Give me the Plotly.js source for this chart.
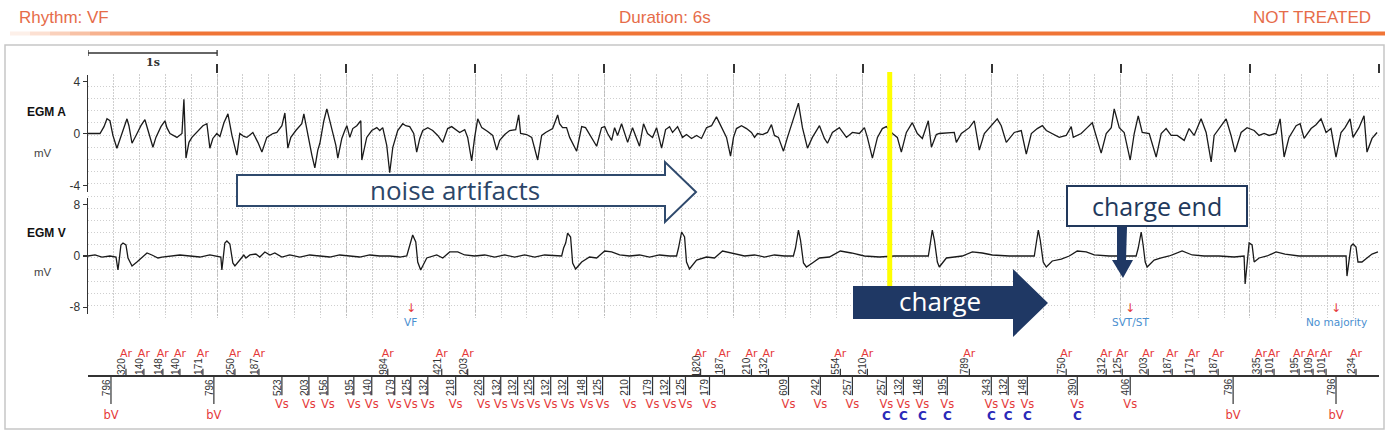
<!DOCTYPE html>
<html>
<head>
<meta charset="utf-8">
<script src="https://cdn.plot.ly/plotly-3.0.1.min.js"></script>
<style>
  html, body { margin: 0; padding: 0; background: #fff; }
  #chart { width: 1393px; height: 436px; }
</style>
</head>
<body>
<div id="chart"></div>
<script>
// ---- header texts ----
var headerLeft = 'Rhythm: VF';
var headerMid = 'Duration: 6s';
var headerRight = 'NOT TREATED';

// ---- EGM A (atrial channel), time in s, amplitude in mV ----
var egmA_t = [
  0.000,0.093,0.124,0.147,0.170,0.193,0.224,0.248,0.279,0.302,0.317,0.341,0.372,0.410,0.441,0.472,0.503,0.526,0.565,0.596,
  0.611,0.635,0.689,0.728,0.743,0.759,0.782,0.805,0.844,0.890,0.921,0.944,0.967,0.998,
  1.022,1.053,1.084,1.115,1.153,1.176,1.207,1.231,1.277,1.316,1.347,1.370,1.385,1.432,1.463,1.502,1.525,1.548,1.571,1.610,
  1.656,1.672,1.703,1.734,1.757,1.780,1.796,1.827,1.850,1.873,1.896,1.920,1.935,1.966,1.989,
  2.005,2.028,2.051,2.082,2.113,2.121,2.144,2.159,2.198,2.237,2.260,2.283,2.314,2.337,2.361,2.399,2.438,2.461,2.492,2.523,
  2.546,2.570,2.593,2.632,2.670,2.709,2.748,2.786,2.817,2.856,2.879,2.918,2.941,2.972,2.995,
  3.019,3.050,3.096,3.135,3.166,3.189,3.228,3.266,3.313,3.336,3.351,3.398,3.437,3.483,3.514,3.545,3.599,3.638,3.653,3.676,
  3.707,3.731,3.785,3.824,3.854,3.885,3.909,3.940,3.978,
  4.002,4.025,4.056,4.079,4.102,4.133,4.156,4.180,4.218,4.249,4.272,4.303,4.334,4.373,4.404,4.443,4.474,4.505,4.528,4.567,
  4.605,4.636,4.675,4.714,4.752,4.791,4.830,4.868,4.907,4.946,4.977,
  5.000,5.023,5.062,5.101,5.139,5.163,5.186,5.224,5.263,5.294,5.317,5.348,5.387,5.418,5.457,5.503,5.534,5.573,5.611,5.666,
  5.704,5.728,5.766,5.820,5.875,5.921,5.975,
  6.014,6.037,6.076,6.115,6.153,6.184,6.231,6.269,6.300,6.339,6.385,6.424,6.463,6.509,6.533,6.571,6.594,6.710,6.726,6.765,
  6.827,6.865,6.904,6.943,6.997,
  7.043,7.074,7.113,7.175,7.229,7.268,7.307,7.353,7.392,7.423,7.469,7.523,7.577,7.616,7.632,7.693,7.740,7.779,7.848,7.887,
  7.926,7.949,7.988,
  8.026,8.073,8.104,8.135,8.166,8.220,8.274,8.313,8.351,8.390,8.437,8.491,8.529,8.568,8.622,8.661,8.700,8.723,8.777,8.816,
  8.854,8.885,8.932,8.978,
  9.033,9.071,9.110,9.149,9.203,9.234,9.265,9.303,9.358,9.389,9.420,9.474,9.512,9.551,9.590,9.628,9.667,9.706,9.737,9.776,
  9.799,9.845,9.884,9.907,9.946,9.985
];
var egmA_mV = [
  0.00,0.00,0.53,1.13,0.98,-0.15,-1.13,-0.38,0.60,1.13,0.60,-0.75,-0.15,0.60,1.06,0.08,-1.06,-0.30,0.53,0.98,
  0.45,0.00,-0.30,0.00,2.64,-1.89,-0.68,-0.30,0.15,0.60,0.75,-1.13,-0.38,0.00,
  -0.23,0.83,1.51,-0.15,-1.66,0.00,-0.23,-0.30,0.08,-0.68,-1.43,-0.68,-0.30,0.00,0.08,0.60,1.58,-1.13,-0.30,0.23,
  0.75,1.51,-0.15,-1.66,-2.64,-1.28,-0.75,0.98,1.89,0.98,0.23,-0.91,-1.89,-0.38,0.23,
  0.60,-0.30,0.38,0.60,0.98,-2.04,-0.91,-0.30,0.23,0.45,0.23,0.45,-0.91,-3.02,-1.06,0.23,0.75,0.60,0.53,0.00,
  -1.43,-0.38,0.23,0.45,0.23,-0.15,-0.68,0.38,0.53,0.23,0.08,0.30,-0.30,-2.11,-0.30,
  1.13,0.45,0.15,-0.15,-1.28,-0.53,-0.08,0.23,0.30,1.43,0.00,-0.08,-0.30,-2.04,-0.15,0.08,0.38,1.43,0.75,0.45,
  0.45,-0.30,-1.36,0.53,0.45,-0.08,-0.45,-0.98,0.45,
  0.53,0.00,-0.53,0.45,-0.15,0.75,0.08,-0.68,0.45,-0.30,-0.98,0.75,0.00,-0.30,0.45,-1.13,0.30,0.53,0.08,0.53,
  -0.30,-0.08,-0.38,-0.15,-0.38,0.45,0.60,1.28,0.45,-0.30,-1.74,
  -0.30,0.38,0.60,0.38,0.08,-0.30,0.00,-0.08,0.08,0.68,-0.15,-0.30,-1.36,-0.30,0.98,2.34,0.45,-1.13,-0.30,0.60,
  -0.38,-0.75,0.08,0.45,-0.30,0.08,0.00,
  0.45,-0.30,-1.89,-0.30,0.38,0.53,0.00,-0.30,-1.43,0.08,0.83,0.00,-0.38,0.98,-1.06,-0.08,0.00,0.08,-0.68,0.00,
  0.45,0.98,-1.28,0.00,0.60,
  1.13,0.60,-0.68,0.08,0.23,-1.58,0.00,0.38,0.60,0.23,0.00,-0.30,-0.15,0.53,-0.30,0.00,0.45,0.83,-1.51,0.00,
  0.45,1.89,0.45,
  0.08,-2.04,0.00,1.36,0.08,0.00,-1.81,0.00,0.38,-0.15,-0.15,-0.53,0.38,-0.15,1.13,0.08,-2.19,-0.15,0.60,1.13,
  -0.15,-1.43,0.08,0.45,
  0.23,-0.15,0.00,-0.15,0.00,1.13,-1.81,-0.30,0.60,0.75,-0.38,0.38,0.68,1.13,0.08,0.38,-1.81,0.08,0.45,1.13,
  -0.30,0.45,1.36,-1.43,-0.38,0.08
];

// ---- EGM V (ventricular channel) ----
var egmV_t = [
  0.000,0.054,0.108,0.170,0.217,0.232,0.240,0.255,0.271,0.294,0.310,0.341,0.379,0.418,0.457,0.495,0.542,0.573,0.635,0.712,
  0.789,0.867,0.944,1.006,
  1.029,1.037,1.045,1.060,1.076,1.099,1.122,1.138,1.176,1.207,1.223,1.254,1.300,1.331,1.370,1.409,1.447,1.502,1.563,1.641,
  1.718,1.796,1.873,1.950,2.028,2.105,2.183,2.260,2.337,2.415,2.469,
  2.485,2.492,2.515,2.539,2.554,2.577,2.624,2.701,2.748,2.802,2.864,2.918,2.995,3.073,3.150,3.228,3.305,3.382,3.460,3.537,
  3.615,3.669,
  3.684,3.700,3.715,3.738,3.754,3.777,3.824,3.885,3.940,4.002,4.056,4.118,4.195,4.272,4.350,4.427,4.505,4.559,
  4.574,4.598,4.621,4.636,4.659,4.714,4.791,4.853,4.915,4.992,5.085,5.163,5.240,5.317,5.395,5.464,
  5.480,5.503,5.519,5.542,5.565,5.611,5.666,5.743,5.828,5.913,6.014,6.130,6.246,6.362,6.509,
  6.517,6.540,6.556,6.579,6.594,6.649,6.711,6.772,6.850,6.927,7.005,7.136,7.252,7.330,
  7.337,7.361,7.376,7.399,7.423,7.469,7.539,7.601,7.663,7.732,7.794,7.910,8.026,8.119,
  8.135,8.158,8.173,8.189,8.204,8.258,8.313,8.375,8.475,8.553,8.646,8.762,8.878,8.947,
  8.955,8.963,8.978,8.994,9.017,9.033,9.071,9.133,9.203,9.272,9.381,9.536,9.690,9.745,
  9.752,9.768,9.783,9.799,9.822,9.837,9.868,9.907,9.946,9.992
];
var egmV_mV = [
  0,0.16,-0.16,0,-0.16,-2.19,-0.94,1.72,2.03,1.72,-0.31,-1.56,-0.94,-0.31,0.47,0.16,-0.31,-0.16,0,0.16,
  0,-0.16,0.16,-0.16,
  -0.16,-2.19,-0.63,2.03,2.34,1.88,-1.09,-1.56,-0.63,0.16,-0.31,0.16,0.31,-0.16,0.63,0.16,0.47,-0.16,0.16,-0.16,
  0.16,0,-0.16,0.16,0,-0.16,0.16,0,0,-0.16,0,
  1.25,1.72,3.28,2.19,-0.94,-2.19,-0.31,0.16,-0.31,0.63,0.63,0.16,0,0.16,-0.16,0.16,-0.16,0.16,-0.16,0.16,
  0,0,
  1.25,2.03,3.59,2.97,-1.09,-2.03,-0.94,-0.16,-0.31,0.78,0.63,0.16,0,0.16,-0.16,0.16,0,0,
  1.25,3.75,2.97,-0.94,-2.03,-0.63,-0.16,-0.31,0.78,0.47,0,0.16,-0.16,0.16,0,0,
  1.25,4.06,2.50,-1.09,-1.72,-1.09,-0.31,-0.16,0.78,0.47,0,-0.16,0,0,0,
  0.94,4.06,2.50,-0.94,-1.72,-0.31,-0.16,0,0.63,0.47,0.16,0,0,0,
  0.94,4.06,2.50,-0.94,-1.72,-0.78,-0.47,0,0.78,0.63,0.16,0,0,0,
  1.25,3.75,1.72,-0.94,-1.72,-0.63,-0.31,0,0.78,0.16,0,0,-0.16,0,
  0,-4.38,-0.63,2.03,1.72,-0.94,-0.31,0,0.63,0.31,0,0,0,0,
  -3.13,-0.94,1.56,1.88,1.41,-0.94,-0.94,-0.31,0.31,0.63
];

// ---- marker channel ----
var atrialTimes = [0.294,0.433,0.580,0.712,0.890,1.138,1.324,2.322,2.740,2.941,4.745,4.930,5.139,5.271,5.828,6.037,
  6.827,7.577,7.887,8.011,8.212,8.398,8.568,8.754,9.087,9.187,9.381,9.489,9.590,9.822];
var atrialIntervals = [320,140,148,140,171,250,187,984,421,203,1820,187,210,132,554,210,
  789,750,312,125,203,187,171,187,335,101,195,109,101,234];

var ventTimes = [0.178,0.975,1.502,1.711,1.858,2.059,2.198,2.376,2.500,2.632,2.848,3.065,3.197,3.328,3.452,3.584,
  3.715,3.862,3.986,4.195,4.373,4.505,4.628,4.814,5.426,5.673,5.921,6.184,6.316,6.463,6.656,6.997,7.128,7.276,7.663,
  8.073,8.870,9.667];
var ventIntervals = [796,796,523,203,156,195,140,179,125,132,218,226,132,132,125,132,
  132,148,125,210,179,132,125,179,609,242,257,257,132,148,195,343,132,148,390,
  406,796,796];
var ventLabels = ['bV','bV','Vs','Vs','Vs','Vs','Vs','Vs','Vs','Vs','Vs','Vs','Vs','Vs','Vs','Vs',
  'Vs','Vs','Vs','Vs','Vs','Vs','Vs','Vs','Vs','Vs','Vs','Vs','Vs','Vs','Vs','Vs','Vs','Vs','Vs',
  'Vs','bV','bV'];
var chargeFlags = [0,0,0,0,0,0,0,0,0,0,0,0,0,0,0,0,
  0,0,0,0,0,0,0,0,0,0,0,1,1,1,1,1,1,1,1,
  0,0,0];

var rhythmTimes = [2.500, 8.073, 9.667];
var rhythmLabels = ['VF', 'SVT/ST', 'No majority'];

var secondTicks = [1,2,3,4,5,6,7,8,9,10];
var chargeStart = 6.21;   // yellow marker

// ---- helpers: pixel -> paper ----
var W = 1393, H = 436;
function px(x) { return x / W; }
function py(y) { return 1 - y / H; }
function poly(pts) {
  return 'M' + pts.map(function (p) { return px(p[0]).toFixed(5) + ',' + py(p[1]).toFixed(5); }).join('L') + 'Z';
}
var xdom = [px(88), px(1379)];

// ---- build marker ticks ----
var aTickX = [], aTickY = [];
for (var i = 0; i < atrialTimes.length; i++) {
  aTickX.push(atrialTimes[i], atrialTimes[i], null);
  aTickY.push(0, 0.18, null);
}
var vTickX = [], vTickY = [];
for (var i = 0; i < ventTimes.length; i++) {
  vTickX.push(ventTimes[i], ventTimes[i], null);
  vTickY.push(0, ventLabels[i] === 'bV' ? -0.7 : -0.48, null);
}
var vsX = [], bvX = [], cX = [];
for (var i = 0; i < ventTimes.length; i++) {
  if (ventLabels[i] === 'bV') bvX.push(ventTimes[i]); else vsX.push(ventTimes[i]);
  if (chargeFlags[i]) cX.push(ventTimes[i]);
}

var red = '#e5393a';
var traces = [
  { x: [], y: [], xaxis: 'x', yaxis: 'y', showlegend: false, hoverinfo: 'skip' },
  { x: egmA_t, y: egmA_mV, xaxis: 'x', yaxis: 'y2', mode: 'lines',
    line: { color: '#1a1a1a', width: 1.3 }, showlegend: false },
  { x: egmV_t, y: egmV_mV, xaxis: 'x', yaxis: 'y3', mode: 'lines',
    line: { color: '#1a1a1a', width: 1.3 }, showlegend: false },
  { x: aTickX, y: aTickY, xaxis: 'x2', yaxis: 'y4', mode: 'lines',
    line: { color: '#333', width: 1.2 }, showlegend: false },
  { x: vTickX, y: vTickY, xaxis: 'x2', yaxis: 'y4', mode: 'lines',
    line: { color: '#333', width: 1.2 }, showlegend: false },
  { x: atrialTimes, y: atrialTimes.map(function () { return 0.55; }), xaxis: 'x2', yaxis: 'y4',
    mode: 'text', text: atrialTimes.map(function () { return 'Ar'; }), cliponaxis: false,
    textfont: { family: 'DejaVu Sans', size: 11, color: red }, showlegend: false },
  { x: vsX, y: vsX.map(function () { return -0.73; }), xaxis: 'x2', yaxis: 'y4',
    mode: 'text', text: vsX.map(function () { return 'Vs'; }), cliponaxis: false,
    textfont: { family: 'DejaVu Sans', size: 11.5, color: red }, showlegend: false },
  { x: bvX, y: bvX.map(function () { return -1.0; }), xaxis: 'x2', yaxis: 'y4',
    mode: 'text', text: bvX.map(function () { return 'bV'; }), cliponaxis: false,
    textfont: { family: 'DejaVu Sans', size: 11.5, color: red }, showlegend: false },
  { x: cX, y: cX.map(function () { return -1.03; }), xaxis: 'x2', yaxis: 'y4',
    mode: 'text', text: cX.map(function () { return '<b>C</b>'; }), cliponaxis: false,
    textfont: { family: 'DejaVu Sans', size: 12, color: '#2a2ab8' }, showlegend: false }
];

// ---- annotations ----
var ann = [];
function paperText(text, x, y, size, color, anchor, family) {
  ann.push({ text: text, xref: 'paper', yref: 'paper', x: px(x), y: py(y), xanchor: anchor || 'center',
    yanchor: 'middle', showarrow: false, font: { family: family || 'Liberation Sans', size: size, color: color } });
}
var orange = '#e66c49';
paperText(headerLeft, 17, 17, 17, orange, 'left');
paperText(headerMid, 665, 17, 17, orange, 'center');
paperText(headerRight, 1373, 17, 17, orange, 'right');
paperText('<b>EGM A</b>', 46, 112, 12, '#111');
paperText('mV', 43, 153, 11.5, '#444');
paperText('<b>EGM V</b>', 46, 233, 12, '#111');
paperText('mV', 43, 272, 11.5, '#444');
paperText('noise artifacts', 455, 190, 26, '#2c4668', 'center', 'Open Sans');
paperText('charge end', 1157, 206, 25, '#22395c', 'center', 'Open Sans');
paperText('charge', 940, 301, 26, '#ffffff', 'center', 'Open Sans');

ann.push({ text: '<b>1s</b>', xref: 'x', yref: 'paper', x: 0.5, y: py(62), xanchor: 'center', yanchor: 'middle',
  showarrow: false, font: { family: 'DejaVu Serif', size: 11, color: '#333' } });

for (var i = 0; i < rhythmTimes.length; i++) {
  ann.push({ text: '↓', xref: 'x2', yref: 'paper', x: rhythmTimes[i], y: py(317), showarrow: false,
    font: { family: 'DejaVu Sans', size: 12, color: red } });
  ann.push({ text: rhythmLabels[i], xref: 'x2', yref: 'paper', x: rhythmTimes[i], y: py(330), showarrow: false,
    font: { family: 'DejaVu Sans', size: 10.5, color: '#4a8fd0' } });
}
for (var i = 0; i < atrialTimes.length; i++) {
  ann.push({ text: String(atrialIntervals[i]), xref: 'x2', yref: 'y4', x: atrialTimes[i], y: 0.25,
    textangle: -90, xshift: -5, showarrow: false, font: { family: 'Liberation Sans', size: 10, color: '#333' } });
}
for (var i = 0; i < ventTimes.length; i++) {
  ann.push({ text: String(ventIntervals[i]), xref: 'x2', yref: 'y4', x: ventTimes[i], y: -0.28,
    textangle: -90, xshift: -5, showarrow: false, font: { family: 'Liberation Sans', size: 10, color: '#333' } });
}

// ---- shapes ----
var shapes = [
  { type: 'rect', xref: 'paper', yref: 'paper', x0: px(5), x1: px(1384), y0: py(429), y1: py(45),
    line: { color: '#c6c6c6', width: 1.5 }, layer: 'below' },
  { type: 'rect', xref: 'paper', yref: 'paper', x0: px(170), x1: px(1385), y0: py(35.5), y1: py(31.5),
    fillcolor: '#f07536', line: { width: 0 } },
  { type: 'line', xref: 'x', yref: 'paper', x0: 0, x1: 1, y0: py(53), y1: py(53), line: { color: '#333', width: 1.3 } },
  { type: 'line', xref: 'x', yref: 'paper', x0: 0, x1: 0, y0: py(50), y1: py(56), line: { color: '#333', width: 1.3 } },
  { type: 'line', xref: 'x', yref: 'paper', x0: 1, x1: 1, y0: py(50), y1: py(56), line: { color: '#333', width: 1.3 } },
  { type: 'line', xref: 'x', yref: 'paper', x0: chargeStart, x1: chargeStart, y0: py(287), y1: py(72),
    line: { color: '#ffff00', width: 5 }, layer: 'above' },
  { type: 'path', xref: 'paper', yref: 'paper',
    path: poly([[237,175],[665,175],[665,162],[696,192],[665,222],[665,206],[237,206]]),
    fillcolor: '#ffffff', line: { color: '#2f4a6d', width: 2 } },
  { type: 'path', xref: 'paper', yref: 'paper',
    path: poly([[853,286],[1013,286],[1013,269],[1048,303],[1013,337],[1013,319],[853,319]]),
    fillcolor: '#1f3864', line: { width: 0 } },
  { type: 'rect', xref: 'paper', yref: 'paper', x0: px(1067), x1: px(1247), y0: py(226), y1: py(186),
    fillcolor: '#ffffff', line: { color: '#22395c', width: 2 } },
  { type: 'path', xref: 'paper', yref: 'paper',
    path: poly([[1117,227],[1127,227],[1126,260],[1133,260],[1123,278],[1112,260],[1117,260]]),
    fillcolor: '#1f3864', line: { width: 0 } }
];
// fading start of the orange header rule
for (var k = 0; k < 8; k++) {
  shapes.push({ type: 'rect', xref: 'paper', yref: 'paper', x0: px(10 + k * 20), x1: px(30 + k * 20),
    y0: py(35.5), y1: py(31.5), fillcolor: '#f07536', opacity: (k + 1) / 9, line: { width: 0 } });
}

var gridCol = '#cfcfcf';
var layout = {
  width: W, height: H,
  margin: { l: 0, r: 0, t: 0, b: 0 },
  paper_bgcolor: '#ffffff', plot_bgcolor: 'rgba(0,0,0,0)',
  font: { family: 'Liberation Sans', color: '#333' },
  showlegend: false,
  xaxis: {
    domain: xdom, range: [0, 10], anchor: 'y', side: 'top',
    tickmode: 'array', tickvals: secondTicks, ticks: 'outside', ticklen: 9, tickwidth: 2, tickcolor: '#333',
    showticklabels: false, showgrid: true, gridcolor: '#bdbdbd', griddash: '2px,2px', gridwidth: 1,
    minor: { tick0: 0, dtick: 0.2, showgrid: true, gridcolor: gridCol, griddash: '1px,2px', gridwidth: 1, ticks: '' },
    zeroline: false, showline: false, fixedrange: true
  },
  xaxis2: {
    domain: xdom, range: [0, 10], anchor: 'y4', showgrid: false, zeroline: false,
    showticklabels: false, ticks: '', showline: false, fixedrange: true
  },
  yaxis: {
    domain: [py(318), py(74)], range: [0, 20], anchor: 'x', dtick: 1,
    showgrid: true, gridcolor: gridCol, griddash: '1px,2px', gridwidth: 1,
    showticklabels: false, ticks: '', zeroline: false, showline: false, fixedrange: true
  },
  yaxis2: {
    domain: [py(192), py(75)], range: [-4.5, 4.5], anchor: 'x',
    tickmode: 'array', tickvals: [-4, 0, 4], ticktext: ['-4', '0', '4'],
    ticks: 'outside', ticklen: 4, tickcolor: '#333', tickwidth: 1.3,
    showline: true, linecolor: '#333', linewidth: 1.5,
    tickfont: { size: 12, color: '#333' }, showgrid: false, zeroline: false, fixedrange: true
  },
  yaxis3: {
    domain: [py(314.25), py(197.75)], range: [-9.1, 9.1], anchor: 'x',
    tickmode: 'array', tickvals: [-8, 0, 8], ticktext: ['-8', '0', '8'],
    ticks: 'outside', ticklen: 4, tickcolor: '#333', tickwidth: 1.3,
    showline: true, linecolor: '#333', linewidth: 1.5,
    tickfont: { size: 12, color: '#333' }, showgrid: false, zeroline: false, fixedrange: true
  },
  yaxis4: {
    domain: [py(424), py(312)], range: [-1.2, 1.6], anchor: 'x2',
    showgrid: false, showticklabels: false, ticks: '', showline: false,
    zeroline: true, zerolinecolor: '#333', zerolinewidth: 1.5, fixedrange: true
  },
  annotations: ann,
  shapes: shapes
};

Plotly.newPlot('chart', traces, layout, { displayModeBar: false, staticPlot: true });
</script>
</body>
</html>
